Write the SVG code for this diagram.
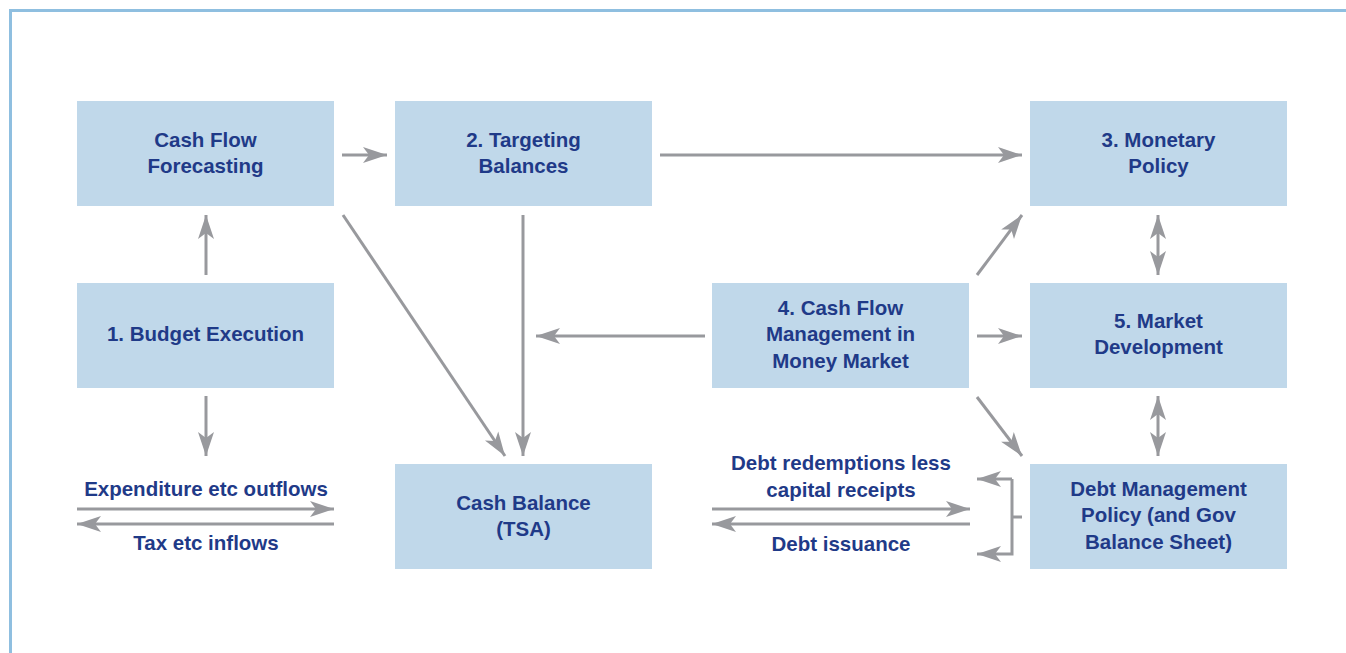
<svg xmlns="http://www.w3.org/2000/svg" width="1346" height="653" viewBox="0 0 1346 653">
<style>
.box{fill:#c0d8ea}
.t{font-family:"Liberation Sans",Arial,sans-serif;font-weight:bold;font-size:20.5px;fill:#1f3a88;text-anchor:middle}
.c{stroke:#98999d;stroke-width:3;fill:none}
.a{marker-end:url(#ah)}
.d{marker-start:url(#ahs);marker-end:url(#ah)}
</style>
<defs>
<marker id="ah" markerUnits="userSpaceOnUse" markerWidth="28" markerHeight="20" viewBox="-24 -10 28 20" refX="0" refY="0" orient="auto">
<path d="M-24,-8 L0,0 L-24,8 L-18,0 z" fill="#98999d"/>
</marker>
<marker id="ahs" markerUnits="userSpaceOnUse" markerWidth="28" markerHeight="20" viewBox="-24 -10 28 20" refX="0" refY="0" orient="auto-start-reverse">
<path d="M-24,-8 L0,0 L-24,8 L-18,0 z" fill="#98999d"/>
</marker>
</defs>
<rect width="1346" height="653" fill="#fff"/>
<path d="M10.5,653 V10.5 H1346" fill="none" stroke="#8fbfe0" stroke-width="3"/>

<g id="n-forecast"><rect class="box" x="77" y="101" width="257" height="105"/><text class="t" x="205.5" y="147">Cash Flow</text><text class="t" x="205.5" y="173">Forecasting</text></g>
<g id="n-targeting"><rect class="box" x="395" y="101" width="257" height="105"/><text class="t" x="523.5" y="147">2. Targeting</text><text class="t" x="523.5" y="173">Balances</text></g>
<g id="n-monetary"><rect class="box" x="1030" y="101" width="257" height="105"/><text class="t" x="1158.5" y="147">3. Monetary</text><text class="t" x="1158.5" y="173">Policy</text></g>
<g id="n-budget"><rect class="box" x="77" y="283" width="257" height="105"/><text class="t" x="205.5" y="341">1. Budget Execution</text></g>
<g id="n-cfm"><rect class="box" x="712" y="283" width="257" height="105"/><text class="t" x="840.5" y="315">4. Cash Flow</text><text class="t" x="840.5" y="341">Management in</text><text class="t" x="840.5" y="368">Money Market</text></g>
<g id="n-market"><rect class="box" x="1030" y="283" width="257" height="105"/><text class="t" x="1158.5" y="328">5. Market</text><text class="t" x="1158.5" y="354">Development</text></g>
<g id="n-cash"><rect class="box" x="395" y="464" width="257" height="105"/><text class="t" x="523.5" y="510">Cash Balance</text><text class="t" x="523.5" y="536">(TSA)</text></g>
<g id="n-debt"><rect class="box" x="1030" y="464" width="257" height="105"/><text class="t" x="1158.5" y="496">Debt Management</text><text class="t" x="1158.5" y="522">Policy (and Gov</text><text class="t" x="1158.5" y="549">Balance Sheet)</text></g>

<g id="labels">
<text class="t" x="206" y="496">Expenditure etc outflows</text>
<text class="t" x="206" y="550">Tax etc inflows</text>
<text class="t" x="841" y="470">Debt redemptions less</text>
<text class="t" x="841" y="497">capital receipts</text>
<text class="t" x="841" y="551">Debt issuance</text>
</g>

<g id="connectors">
<line class="c a" x1="342" y1="155" x2="387" y2="155"/>
<line class="c a" x1="660" y1="155" x2="1022" y2="155"/>
<line class="c a" x1="206" y1="275" x2="206" y2="215"/>
<line class="c a" x1="206" y1="396" x2="206" y2="456"/>
<line class="c a" x1="343" y1="215" x2="505" y2="456"/>
<line class="c a" x1="523" y1="215" x2="523" y2="456"/>
<line class="c a" x1="705" y1="336" x2="536" y2="336"/>
<line class="c a" x1="977" y1="336" x2="1022" y2="336"/>
<line class="c a" x1="977" y1="275" x2="1022" y2="215"/>
<line class="c a" x1="977" y1="397" x2="1022" y2="456"/>
<line class="c d" x1="1158" y1="215" x2="1158" y2="275"/>
<line class="c d" x1="1158" y1="396" x2="1158" y2="456"/>
<line class="c a" x1="77" y1="509" x2="334" y2="509"/>
<line class="c a" x1="334" y1="524" x2="77" y2="524"/>
<line class="c a" x1="712" y1="509" x2="970" y2="509"/>
<line class="c a" x1="970" y1="524" x2="712" y2="524"/>
<path class="c" d="M1022,517 H1012"/>
<path class="c a" d="M1012,479 H977"/>
<path class="c a" d="M1012,479 V554 H977"/>
</g>
</svg>
